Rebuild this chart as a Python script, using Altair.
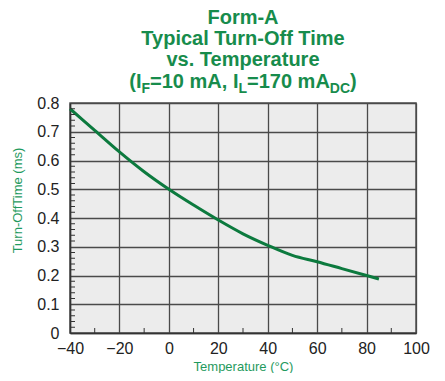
import altair as alt
import pandas as pd

temps = [-40, -30, -20, -10, 0, 10, 20, 30, 40, 50, 60, 70, 80, 85]
turnoff = [0.78, 0.705, 0.63, 0.561, 0.50, 0.445, 0.393, 0.345, 0.305, 0.27, 0.248, 0.224, 0.20, 0.188]

x_ticks = [-40, -20, 0, 20, 40, 60, 80, 100]
y_ticks = [0, 0.1, 0.2, 0.3, 0.4, 0.5, 0.6, 0.7, 0.8]
x_minor = [-30, -10, 10, 30, 50, 70, 90]
y_minor = [round(i * 0.02, 2) for i in range(41) if i % 5 != 0]

title_lines = ["Form-A", "Typical Turn-Off Time", "vs. Temperature"]
title_parts = ["(I", "F", "=10 mA, I", "L", "=170 mA", "DC", ")"]
title_sub = [False, True, False, True, False, True, False]

FONT = "Liberation Sans"
TGREEN = "#178c4c"
LGREEN = "#0c7a3e"
AGREEN = "#1f9a5e"
W, H = 346, 230
TS, SS = 20, 14

# Arial/Liberation Sans Bold advance widths (per 1000 em) for centring the subscripted line
ADV = {"(": 333, ")": 333, "I": 278, "F": 611, "=": 584, "1": 556, "0": 556, "7": 556,
       " ": 278, "m": 889, "A": 722, ",": 278, "L": 611, "D": 722, "C": 722}


def tw(s, size):
    return sum(ADV.get(c, 556) for c in s) * size / 1000


xs = alt.Scale(domain=[-40, 100], nice=False)
ys = alt.Scale(domain=[0, 0.8], nice=False)
xaxis = alt.Axis(values=x_ticks, title="Temperature (°C)", grid=True,
                 labelOverlap=False, labelFlush=False,
                 labelExpr="replace(datum.label, '-', '–')")
yaxis = alt.Axis(values=y_ticks, title="Turn-OffTime (ms)", grid=True, titleY=97,
                 labelOverlap=False, labelFlush=False,
                 labelExpr="datum.value == 0 ? '0' : format(datum.value, '.1f')")

df = pd.DataFrame({"t": temps, "v": turnoff})

base = alt.Chart(df).mark_line(color=LGREEN, strokeWidth=3, interpolate="monotone").encode(
    x=alt.X("t:Q", scale=xs, axis=xaxis),
    y=alt.Y("v:Q", scale=ys, axis=yaxis),
)

xminor = alt.Chart(pd.DataFrame({"t": x_minor})).mark_rule(color="#333", strokeWidth=1).encode(
    x=alt.X("t:Q", scale=xs, axis=xaxis), y=alt.value(H), y2=alt.value(H - 5))
yminor = alt.Chart(pd.DataFrame({"v": y_minor})).mark_rule(color="#333", strokeWidth=1).encode(
    y=alt.Y("v:Q", scale=ys, axis=yaxis), x=alt.value(0), x2=alt.value(5))

layers = [base, xminor, yminor]

for txt, yy in zip(title_lines, [-79, -58, -37]):
    layers.append(
        alt.Chart(pd.DataFrame({"txt": [txt]})).mark_text(
            font=FONT, fontSize=TS, fontWeight="bold", color=TGREEN,
            align="center", baseline="alphabetic").encode(
            text="txt:N", x=alt.value(W / 2), y=alt.value(yy)))

sizes = [SS if s else TS for s in title_sub]
total = sum(tw(t, s) for t, s in zip(title_parts, sizes))
pos = W / 2 - total / 2
for txt, sub, sz in zip(title_parts, title_sub, sizes):
    layers.append(
        alt.Chart(pd.DataFrame({"txt": [txt]})).mark_text(
            font=FONT, fontSize=sz, fontWeight="bold", color=TGREEN,
            align="left", baseline="alphabetic").encode(
            text="txt:N", x=alt.value(pos), y=alt.value(-10 if sub else -15)))
    pos += tw(txt, sz)

chart = alt.layer(*layers).properties(
    width=W, height=H,
    autosize=alt.AutoSizeParams(type="none"),
    padding={"left": 62, "top": 95, "right": 21, "bottom": 40},
    background="white",
).configure_view(fill="#ececec", stroke="#555", strokeWidth=1.5).configure_axis(
    labelFont=FONT, labelFontSize=16, labelColor="#222",
    titleFont=FONT, titleFontSize=13, titleColor=AGREEN, titleFontWeight="normal",
    gridColor="#4a4a4a", gridWidth=1.3, gridOpacity=1,
    domainColor="#333", domainWidth=1.5, ticks=False,
).configure_axisX(labelPadding=7, titlePadding=4).configure_axisY(labelPadding=11, titlePadding=12)

chart.save("out.html", embed_options={"renderer": "svg", "actions": False})
